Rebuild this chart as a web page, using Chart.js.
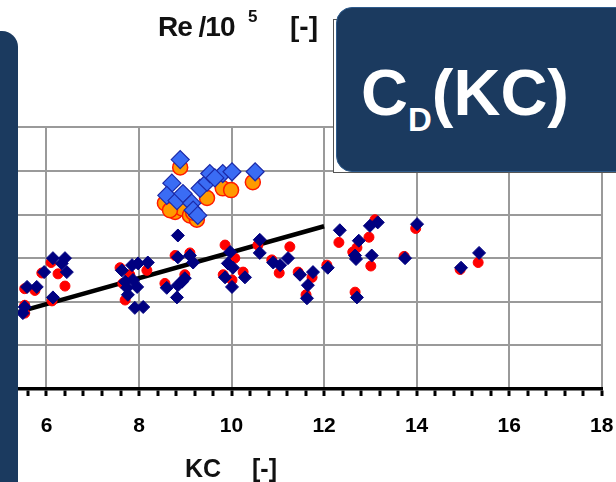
<!DOCTYPE html>
<html>
<head>
<meta charset="utf-8">
<script src="https://cdn.jsdelivr.net/npm/chart.js@4.4.1/dist/chart.umd.min.js"></script>
<style>
  html, body { margin: 0; padding: 0; background: #fff; overflow: hidden; }
  #wrap { position: relative; width: 616px; height: 482px; overflow: hidden; font-family: "Liberation Sans", Arial, sans-serif; }
  canvas { position: absolute; left: -20px; top: 0; width: 636px; height: 482px; }
  .txt { position: absolute; font-weight: bold; color: #111; white-space: nowrap; line-height: 1; }
  .panel { position: absolute; background: #1b3a5f; }
</style>
</head>
<body>
<div id="wrap">
  <canvas id="cd" width="636" height="482"></canvas>

  <div class="txt" style="left:158px; top:13px; font-size:28px; letter-spacing:-1px;">Re /10</div>
  <div class="txt" style="left:248px; top:8px; font-size:17px;">5</div>
  <div class="txt" style="left:290px; top:13px; font-size:28px;">[-]</div>

  <div class="txt" style="left:185px; top:456px; font-size:25px;">KC</div>
  <div class="txt" style="left:252px; top:456px; font-size:25px;">[-]</div>

  <div style="position:absolute; left:333px; top:19px; width:320px; height:152px; background:#fff; border:1px solid #555;"></div>

  <div class="panel" style="left:-30px; top:31px; width:48px; height:480px; border-radius:16px;"></div>
  <div class="panel" style="left:336px; top:7px; width:320px; height:163px; border-radius:16px; border:1px solid #2e5b8c;">
    <div class="txt" style="position:absolute; left:24px; top:52px; font-size:65px; color:#fff;">C<span style="font-size:33px; position:relative; top:16px;">D</span>(KC)</div>
  </div>
</div>

<script>
// measured C_D (red circles) and second set (navy diamonds)
const redKC = [5.53, 5.53, 5.53, 5.75, 5.90, 6.10, 6.25, 6.40, 6.12, 7.59, 7.80, 8.17, 7.65, 7.70,
  8.78, 9.10, 9.86, 10.07, 9.82, 10.01, 10.25, 8.56, 8.99, 10.57, 12.32, 11.26, 10.87, 11.03,
  11.44, 11.74, 11.61, 12.06, 12.62, 12.67, 13.10, 12.97, 12.71, 13.01, 13.73, 13.98, 14.94, 15.33];
const redCd = [0.96, 0.87, 1.15, 1.13, 1.33, 1.45, 1.32, 1.18, 1.01, 1.39, 1.31, 1.36, 1.21, 1.02,
  1.53, 1.56, 1.65, 1.50, 1.31, 1.25, 1.34, 1.21, 1.31, 1.65, 1.68, 1.63, 1.48, 1.33,
  1.34, 1.28, 1.08, 1.42, 1.57, 1.11, 1.94, 1.74, 1.62, 1.41, 1.52, 1.84, 1.37, 1.45];

const navyKC = [5.53, 5.49, 5.58, 5.79, 5.95, 6.14, 6.40, 6.44, 6.33, 6.14, 7.63, 7.85, 7.98, 8.19,
  7.70, 7.87, 7.74, 7.96, 7.76, 7.91, 8.09, 8.84, 8.84, 9.10, 9.17, 9.97, 9.92, 10.03, 9.86,
  10.01, 10.29, 8.60, 8.82, 8.84, 8.93, 8.99, 10.61, 10.61, 12.34, 11.22, 10.90, 11.05, 11.48,
  11.76, 11.65, 11.63, 12.08, 12.67, 12.71, 12.99, 13.16, 12.75, 12.69, 13.03, 13.75, 14.01,
  14.96, 15.35];
const navyCd = [0.94, 0.87, 1.17, 1.17, 1.34, 1.50, 1.50, 1.34, 1.44, 1.05, 1.36, 1.42, 1.44, 1.45,
  1.23, 1.25, 1.16, 1.17, 1.08, 0.93, 0.94, 1.76, 1.51, 1.53, 1.45, 1.57, 1.44, 1.39, 1.28,
  1.17, 1.28, 1.16, 1.05, 1.19, 1.23, 1.27, 1.71, 1.56, 1.82, 1.50, 1.45, 1.42, 1.31,
  1.34, 1.19, 1.04, 1.39, 1.53, 1.05, 1.87, 1.91, 1.70, 1.49, 1.53, 1.50, 1.89,
  1.39, 1.56];

// Re/10^5 sets (orange circles, blue diamonds)
const orangeKC = [8.89, 8.56, 8.78, 8.93, 9.10, 9.25, 9.47, 9.81, 9.99, 10.46, 9.17, 8.67];
const orangeVal = [2.54, 2.13, 2.03, 2.07, 1.99, 1.94, 2.19, 2.30, 2.28, 2.37, 2.02, 2.05];

const blueKC = [8.89, 8.71, 8.60, 8.82, 8.95, 9.14, 9.17, 9.27, 9.32, 9.47, 9.53, 9.81, 10.01, 10.51, 9.64];
const blueVal = [2.63, 2.36, 2.22, 2.16, 2.24, 2.13, 2.05, 1.99, 2.30, 2.37, 2.47, 2.47, 2.49, 2.49, 2.42];

// fitted trend
const trendKC = [5.4, 12.0];
const trendCd = [0.885, 1.866];

const xTickLabels = [6, 8, 10, 12, 14, 16, 18];

const pts = (xs, ys) => xs.map((x, i) => ({ x, y: ys[i] }));
const isMajor = v => xTickLabels.includes(Math.round(v * 10) / 10);

// where the plot area should sit inside the canvas (canvas is shifted 20px left)
const area = { left: 20.2, right: 621.7, top: 127.3, bottom: 389 };

const chart = new Chart(document.getElementById('cd'), {
  type: 'scatter',
  data: {
    datasets: [
      {
        data: pts(blueKC, blueVal),
        pointStyle: 'rectRot',
        pointRadius: 9,
        backgroundColor: '#3a6cf4',
        borderColor: '#1c2aa8',
        borderWidth: 1.2
      },
      {
        data: pts(orangeKC, orangeVal),
        pointStyle: 'circle',
        pointRadius: 7.5,
        backgroundColor: '#ff9a00',
        borderColor: '#ff1a00',
        borderWidth: 1.5
      },
      {
        data: pts(navyKC, navyCd),
        pointStyle: 'rectRot',
        pointRadius: 6.5,
        backgroundColor: '#000080',
        borderColor: '#000080',
        borderWidth: 1
      },
      {
        data: pts(redKC, redCd),
        pointStyle: 'circle',
        pointRadius: 5,
        backgroundColor: '#ff0000',
        borderColor: '#ff0000',
        borderWidth: 1
      },
      {
        data: pts(trendKC, trendCd),
        showLine: true,
        pointRadius: 0,
        borderColor: '#000',
        borderWidth: 4.5
      }
    ]
  },
  options: {
    responsive: false,
    animation: false,
    layout: { padding: { left: 20, right: 14.3, top: 127, bottom: 41 } },
    plugins: { legend: { display: false }, tooltip: { enabled: false } },
    scales: {
      x: {
        type: 'linear',
        min: 5,
        max: 18,
        afterFit: s => { s.paddingLeft = 0; s.paddingRight = 0; },
        ticks: {
          stepSize: 0.4,
          autoSkip: false,
          maxRotation: 0,
          minRotation: 0,
          padding: 18,
          color: '#000',
          font: { family: 'Liberation Sans', size: 21, weight: 'bold' },
          callback: v => isMajor(v) ? String(Math.round(v)) : ''
        },
        grid: {
          color: ctx => ctx.tick && isMajor(ctx.tick.value) ? '#9a9a9a' : 'rgba(0,0,0,0)',
          lineWidth: 2,
          tickColor: '#000',
          tickWidth: 3,
          tickLength: 7
        },
        border: { color: '#000', width: 3.5 }
      },
      y: {
        min: 0,
        max: 3,
        afterFit: s => { s.width = 0; },
        ticks: { stepSize: 0.5, display: false },
        grid: { color: '#9a9a9a', lineWidth: 2, drawTicks: false },
        border: { display: false }
      }
    }
  }
});

// nudge the layout padding until the plot area lands where it should
for (let i = 0; i < 4; i++) {
  const a = chart.chartArea;
  const p = chart.options.layout.padding;
  chart.options.layout.padding = {
    left: p.left + (area.left - a.left),
    right: p.right + (a.right - area.right),
    top: p.top + (area.top - a.top),
    bottom: p.bottom + (a.bottom - area.bottom)
  };
  chart.update();
}
</script>
</body>
</html>
